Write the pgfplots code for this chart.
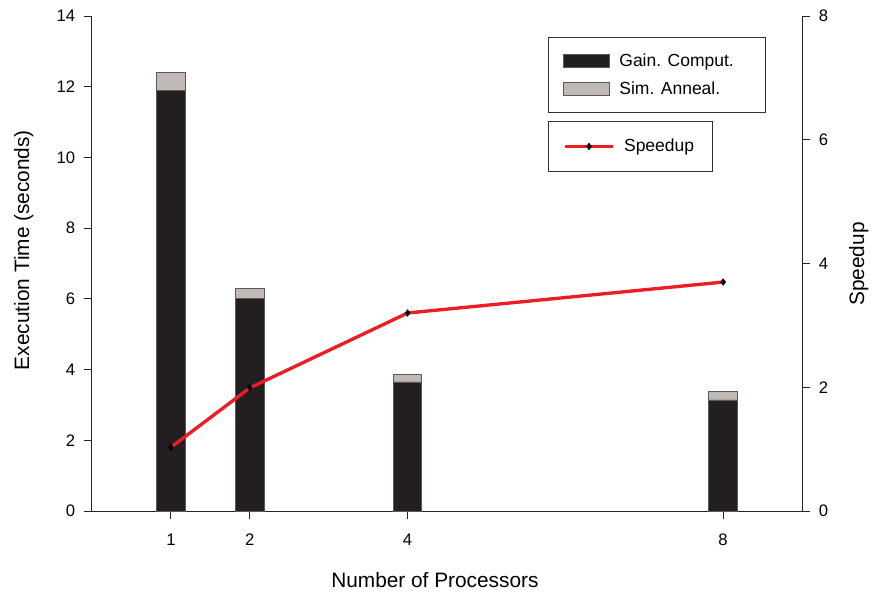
\documentclass[border=0pt]{standalone}
\usepackage{fontspec}
\setmainfont{Liberation Sans}
\usepackage{pgfplots}
\pgfplotsset{compat=1.18}
\definecolor{barblack}{HTML}{231F20}
\definecolor{bargray}{HTML}{C1B9B6}
\definecolor{spred}{HTML}{EE1D25}
\begin{document}
\begin{tikzpicture}
\pgfplotsset{
  every axis/.append style={
    scale only axis, width=426pt, height=297pt,
    xmin=0, xmax=9,
    tick align=outside, major tick length=4.8pt,
    /pgf/number format/assume math mode=true,
    tick label style={font=\fontsize{10}{12}\selectfont},
    label style={font=\fontsize{12.5}{15}\selectfont},
    legend style={font=\fontsize{10.5}{12.6}\selectfont, draw=black!80, line width=0.5pt,
      cells={anchor=west}, column sep=3.6pt},
    axis line style={black!85, line width=0.6pt},
    major tick style={black!85, line width=0.6pt},
  }
}
\begin{axis}[name=ax,
  ybar stacked, bar width=0.36,
  axis x line*=bottom, axis y line*=left,
  ymin=0, ymax=14, ytick={0,2,...,14},
  xtick={1,2,4,8},
  xticklabel style={yshift=-5.4pt},
  yticklabel style={xshift=-1.8pt},
  xlabel={Number of Processors},
  ylabel={Execution Time (seconds)},
  xlabel style={at={(axis description cs:0.483,-0.139)}, anchor=center},
  ylabel style={at={(axis description cs:-0.096,0.527)}, anchor=center},
  legend style={at={(rel axis cs:0.642,0.958)}, anchor=north west,
    inner xsep=9pt, inner ysep=7.7pt, row sep=3.8pt},
  legend image code/.code={\draw[#1] (0cm,-0.1375cm) rectangle (0.97cm,0.1375cm);},
]
\addplot[fill=barblack, draw=black!65, line width=0.5pt] coordinates {(1,11.9) (2,6.02) (4,3.65) (8,3.14)};
\addplot[fill=bargray, draw=black!65, line width=0.5pt] coordinates {(1,0.51) (2,0.28) (4,0.22) (8,0.23)};
\legend{Gain. Comput.\hspace*{8pt}, Sim. Anneal.}
\end{axis}
\begin{axis}[
  axis x line=none, axis y line*=right,
  ymin=0, ymax=8, ytick={0,2,...,8},
  yticklabel style={xshift=1.8pt},
  ylabel={Speedup},
  ylabel style={at={(axis description cs:1.080,0.499)}, anchor=center},
  legend style={at={(rel axis cs:0.642,0.788)}, anchor=north west,
    inner xsep=9pt, inner ysep=8.5pt},
  legend image code/.code={\draw[#1, mark repeat=2, mark phase=2] plot coordinates {(0cm,0cm) (0.508cm,0cm) (1.016cm,0cm)};},
]
\addplot[spred, line width=2pt, mark=diamond*, mark size=2pt,
  mark options={black, fill=black, line width=0.3pt}]
  coordinates {(1,1.03) (2,1.99) (4,3.2) (8,3.7)};
\legend{Speedup}
\end{axis}
\pgfresetboundingbox
\path (ax.south west) ++(-55.2pt,-49.8pt) rectangle ++(523.8pt,356.4pt);
\end{tikzpicture}
\end{document}
